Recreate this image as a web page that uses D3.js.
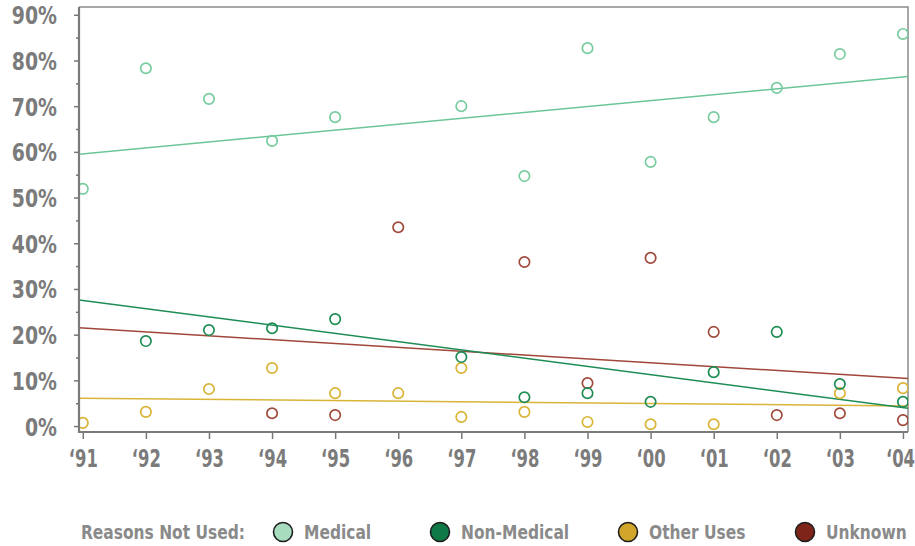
<!DOCTYPE html>
<html>
<head>
<meta charset="utf-8">
<script src="https://cdn.jsdelivr.net/npm/d3@7"></script>
<style>
  body { margin: 0; background: #fff; }
  text { font-family: "Liberation Sans Narrow", "DejaVu Sans Condensed", "Roboto Condensed", sans-serif; font-weight: bold; }
</style>
</head>
<body>
<div id="chart"></div>
<script>
// Data
const years = d3.range(1991, 2005)
const yTicks = [0, 10, 20, 30, 40, 50, 60, 70, 80, 90]

const seriesNames = ['Medical', 'Non-Medical', 'Other Uses', 'Unknown']

// [year, percent]
const medical = [[1991, 51.9], [1992, 78.3], [1993, 71.6], [1994, 62.4], [1995, 67.6], [1997, 70.0],
  [1998, 54.7], [1999, 82.7], [2000, 57.8], [2001, 67.6], [2002, 74.0], [2003, 81.4], [2004, 85.8]]
const nonMedical = [[1992, 18.6], [1993, 21.0], [1994, 21.4], [1995, 23.4], [1997, 15.1], [1998, 6.3],
  [1999, 7.2], [2000, 5.3], [2001, 11.8], [2002, 20.6], [2003, 9.2], [2004, 5.3]]
const otherUses = [[1991, 0.7], [1992, 3.1], [1993, 8.1], [1994, 12.7], [1995, 7.2], [1996, 7.2], [1997, 12.7],
  [1997, 2.0], [1998, 3.1], [1999, 0.9], [2000, 0.4], [2001, 0.4], [2003, 7.2], [2004, 8.3]]
const unknown = [[1994, 2.8], [1995, 2.4], [1996, 43.5], [1998, 35.9], [1999, 9.4], [2000, 36.8],
  [2001, 20.6], [2002, 2.4], [2003, 2.8], [2004, 1.3]]

// trend lines: value at left edge, value at right edge of the plot
const trendMedical = [59.5, 76.5]
const trendNonMedical = [27.6, 3.9]
const trendOtherUses = [6.1, 4.4]
const trendUnknown = [21.5, 10.4]

const series = [
  { name: 'Unknown', points: unknown, trend: trendUnknown, color: '#a04a3c', line: '#a0473a', fill: '#7e2418' },
  { name: 'Other Uses', points: otherUses, trend: trendOtherUses, color: '#d9b437', line: '#d9b437', fill: '#d2a62b' },
  { name: 'Non-Medical', points: nonMedical, trend: trendNonMedical, color: '#1e8c55', line: '#1e8c55', fill: '#0f7a45' },
  { name: 'Medical', points: medical, trend: trendMedical, color: '#78cc9f', line: '#6cc597', fill: '#a8dcbf' },
]

// Dimensions
const width = 915, height = 546
const plot = { left: 79, right: 908, top: 7, bottom: 432 }

const svg = d3.select('#chart').append('svg')
  .attr('width', width)
  .attr('height', height)

// Scales
const xScale = d3.scaleLinear()
  .domain([1990.94, 2004.08])
  .range([plot.left, plot.right])
const yScale = d3.scaleLinear()
  .domain([-1.3, 91.7])
  .range([plot.bottom, plot.top])

// frame (top + right)
svg.append('path')
  .attr('d', `M${plot.left},${plot.top}H${plot.right}V${plot.bottom}`)
  .attr('fill', 'none')
  .attr('stroke', '#8a8a8a')
  .attr('stroke-width', 1.5)

svg.append('clipPath').attr('id', 'clip')
  .append('rect')
  .attr('x', plot.left).attr('y', plot.top)
  .attr('width', plot.right - plot.left).attr('height', plot.bottom - plot.top)

const ctr = svg.append('g').attr('clip-path', 'url(#clip)')

// trend lines
const [x0, x1] = xScale.domain()
const trendLine = d3.line().x(d => xScale(d[0])).y(d => yScale(d[1]))
series.forEach(s => {
  ctr.append('path')
    .datum([[x0, s.trend[0]], [x1, s.trend[1]]])
    .attr('d', trendLine)
    .attr('fill', 'none')
    .attr('stroke', s.line)
    .attr('stroke-width', 1.5)
})

// points
series.forEach(s => {
  ctr.append('g').selectAll('circle')
    .data(s.points)
    .join('circle')
    .attr('cx', d => xScale(d[0]))
    .attr('cy', d => yScale(d[1]))
    .attr('r', 5.2)
    .attr('fill', 'none')
    .attr('stroke', s.color)
    .attr('stroke-width', 1.7)
})

// Axes (text squeezed horizontally, the original face is a narrow one)
const ky = 0.84, kx = 0.76, kl = 0.86

const yAxis = d3.axisLeft(yScale)
  .tickValues(d3.range(0, 91, 5))
  .tickSize(5)
  .tickFormat(d => yTicks.includes(d) ? d + '%' : '')
const yAxisGroup = svg.append('g')
  .attr('transform', `translate(${plot.left},0)`)
  .call(yAxis)
yAxisGroup.select('.domain').remove()
yAxisGroup.selectAll('.tick line')
  .attr('stroke', '#777')
  .attr('stroke-width', 1.5)
  .attr('x2', d => yTicks.includes(d) ? -5 : -3)
yAxisGroup.selectAll('.tick text')
  .attr('x', -22 / ky)
  .attr('dy', '0.36em')
  .attr('transform', `scale(${ky},1)`)
  .attr('fill', '#7b7b7b')
  .style('font-size', '25px')

const xAxis = d3.axisBottom(xScale)
  .tickValues(years)
  .tickSize(7)
  .tickFormat(d => '\u2018' + String(d).slice(2))
const xAxisGroup = svg.append('g')
  .attr('transform', `translate(0,${plot.bottom})`)
  .call(xAxis)
xAxisGroup.select('.domain').remove()
xAxisGroup.selectAll('.tick line')
  .attr('stroke', '#777')
  .attr('stroke-width', 1.5)
xAxisGroup.selectAll('.tick text')
  .attr('x', d => d === 2004 ? -3 / kx : 0)
  .attr('y', 18)
  .attr('dy', '0.71em')
  .attr('transform', `scale(${kx},1)`)
  .attr('fill', '#7b7b7b')
  .style('font-size', '24px')

// axis lines
svg.append('path')
  .attr('d', `M${plot.left},${plot.top}V${plot.bottom}H${plot.right}`)
  .attr('fill', 'none')
  .attr('stroke', '#7a7a7a')
  .attr('stroke-width', 2.2)

// Legend
const legend = svg.append('g')
legend.append('text')
  .attr('transform', `translate(245,532) scale(${kl},1)`)
  .attr('dy', '0.35em')
  .attr('text-anchor', 'end')
  .attr('fill', '#8a8a8a')
  .style('font-size', '20px')
  .text('Reasons Not Used:')

const legendX = [283, 440, 628, 805]
seriesNames.forEach((name, i) => {
  const s = series.find(d => d.name === name)
  legend.append('circle')
    .attr('cx', legendX[i]).attr('cy', 532)
    .attr('r', 9.5)
    .attr('fill', s.fill)
    .attr('stroke', '#1e1e1e')
    .attr('stroke-width', 1.6)
  legend.append('text')
    .attr('transform', `translate(${legendX[i] + 21},532) scale(${kl},1)`)
    .attr('dy', '0.35em')
    .attr('fill', '#8a8a8a')
    .style('font-size', '20px')
    .text(name)
})
</script>
</body>
</html>
